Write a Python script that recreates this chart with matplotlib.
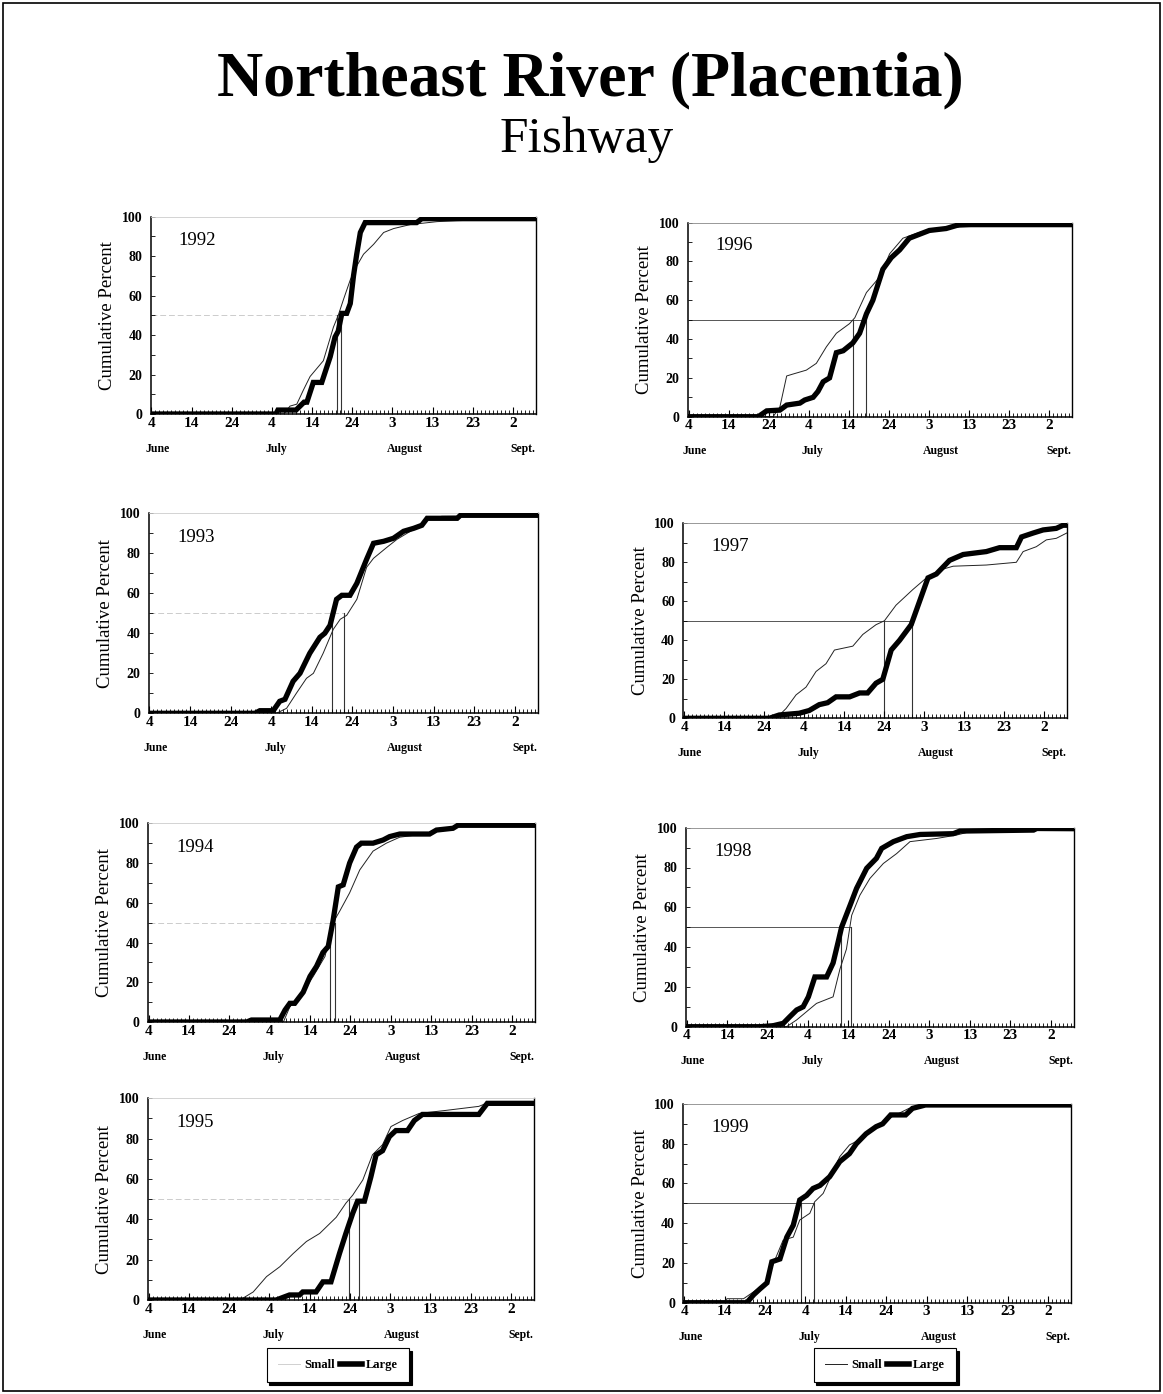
import matplotlib.pyplot as plt
from matplotlib.patches import Rectangle
from matplotlib.lines import Line2D

"""
Cumulative run timing of small and large fish, Northeast River (Placentia) fishway.
Days are counted from June 4.
"""

years = [1992, 1993, 1994, 1995, 1996, 1997, 1998, 1999]

small_1992 = [(0, 0), (33, 0), (34.5, 4), (36.2, 5), (37.8, 12), (39.5, 19), (42.8, 27), (45.3, 44),
              (46.5, 50), (47.8, 58), (49.5, 68), (51.1, 75), (52.8, 81), (55.3, 86), (57.8, 92),
              (60.3, 94), (64.4, 96), (71.1, 97.5), (76.1, 98), (95.8, 99)]
large_1992 = [(0, 0), (31, 0), (31.5, 2), (36, 2), (38, 6), (38.7, 6), (40.3, 16), (42.4, 16), (44.5, 29),
              (45.7, 39), (46.5, 42), (47.4, 51), (48.6, 51), (49.5, 56), (50.3, 70), (51.1, 81), (52, 92),
              (53.2, 97), (66, 97), (67.3, 99), (95.8, 99)]

small_1993 = [(0, 0), (31.3, 0), (33.8, 2.5), (36.2, 10), (38.7, 17.5), (40.4, 20), (42.8, 30), (45.3, 42),
              (47, 47), (48.6, 49), (51.1, 57), (53.5, 73), (55.2, 77.5), (58.5, 83), (61, 87), (65.1, 92),
              (68.4, 97), (72, 98.5), (95.8, 99)]
large_1993 = [(0, 0), (26, 0), (27.2, 1.3), (30.5, 1.3), (32.1, 6), (33.4, 7), (35.4, 16), (37.1, 20),
              (39.5, 30), (42, 38), (43.2, 40), (44.5, 44), (46.1, 57), (47.4, 59), (49.4, 59), (51.1, 65),
              (53.5, 77), (55.2, 85), (57.7, 86), (60.1, 87.5), (62.6, 91), (65.1, 92.5), (67.1, 94),
              (68.4, 97.5), (75.8, 97.5), (76.6, 99), (95.8, 99)]

small_1994 = [(0, 0), (33.4, 0), (35, 7.7), (37.5, 12.8), (40.8, 23), (43.7, 33), (45.7, 50), (47.4, 56),
              (49.8, 65), (52.3, 76.5), (55.6, 86), (58.9, 90), (62.2, 93), (69.6, 95), (73.7, 97.5),
              (77.8, 99), (95.8, 99)]
large_1994 = [(0, 0), (24.3, 0), (25.5, 1), (32.5, 1), (33.8, 6), (35, 9.4), (36.2, 9.4), (38.3, 15),
              (40, 23), (41.6, 28), (43.2, 35), (44.5, 38), (45.7, 51), (47, 68), (48.2, 69), (49.8, 80),
              (51.5, 88), (52.7, 90), (55.6, 90), (58.1, 91.6), (59.7, 93.3), (62.2, 94.6), (69.6, 94.6),
              (71.3, 96.6), (75.4, 97.5), (76.6, 99), (95.8, 99)]

small_1995 = [(0, 0), (22.7, 0), (26, 4), (29.3, 11.6), (32.6, 16.5), (35.9, 23), (39.2, 29), (42.5, 33),
              (46.6, 41), (49, 48), (50.7, 52), (53.2, 59.5), (55.6, 72), (58.1, 77), (60.2, 86),
              (63.1, 89), (67.2, 92.5), (73.8, 94), (82, 96), (84.5, 98), (95.8, 98)]
large_1995 = [(0, 0), (31.7, 0), (33.4, 1.3), (35, 2.5), (37.5, 2.5), (38.3, 4), (41.6, 4), (43.3, 9),
              (45.3, 9), (47.4, 23), (49, 33), (50.7, 43), (51.9, 49), (53.6, 49), (55.2, 61), (56.5, 72),
              (58.1, 74), (59.8, 81), (61.4, 84), (64.3, 84), (66, 89), (68, 92), (82, 92), (84.1, 97.5),
              (95.8, 97.5)]

small_1996 = [(0, 0), (21.1, 0), (22.8, 5), (24.5, 21), (26.1, 22), (29.4, 24), (31.9, 27.5), (34.4, 36),
              (36.9, 43), (40.2, 48), (41.5, 51), (44.4, 64), (47.7, 72), (50.2, 84), (53.5, 92),
              (57.6, 95), (61.8, 97), (70, 98), (82.5, 99), (95.8, 99)]
large_1996 = [(0, 0), (17.4, 0), (19.5, 3), (22.8, 3.4), (24.5, 6), (27.8, 7), (29, 8.6), (31.1, 10),
              (32.3, 13), (33.6, 18), (35.2, 20), (36.9, 33), (38.6, 34), (41, 38), (42.7, 43), (44.4, 53),
              (46, 60), (48.5, 76), (50.6, 82), (52.7, 86), (55.1, 92), (57.6, 94), (60.1, 96), (64.3, 97),
              (67.6, 99), (95.8, 99)]

small_1997 = [(0, 0), (23, 0), (25.5, 5), (28, 12), (30.5, 16), (33, 24), (35.5, 28), (37.6, 35), (42.2, 37),
              (44.7, 43), (48, 48), (50.1, 50), (53, 58), (57.2, 66), (60.6, 72), (63.9, 76), (67.3, 78),
              (75.6, 78.6), (83.1, 80), (84.8, 85.5), (88.1, 88), (90.6, 91.5), (93.1, 92.3), (95.7, 95)]
large_1997 = [(0, 0), (21.3, 0), (23.8, 1.7), (28.8, 2.6), (31.3, 4), (33.8, 7), (35.9, 8), (38, 11),
              (41.4, 11), (43.9, 13), (45.9, 13), (48, 18), (49.7, 20), (51.8, 35), (53.9, 40), (56.8, 48),
              (58.9, 60), (61, 72), (63.1, 74), (66.4, 81), (69.8, 84), (75.6, 85.5), (78.9, 87.5),
              (83.1, 87.5), (84.4, 93), (87.3, 95), (89.8, 96.6), (93.1, 97.4), (94.8, 99), (95.7, 99)]

small_1998 = [(0, 0), (24.7, 0), (27.2, 3.4), (30.5, 9), (32.1, 11.7), (36.2, 15), (37.9, 29), (39.5, 39),
              (40.8, 56), (42.8, 66), (45.3, 74.5), (48.6, 82), (51.9, 87), (55.2, 93), (61.8, 94.6),
              (66.7, 96.3), (70, 98), (85, 98.5), (86.5, 99.3), (95.8, 99.3)]
large_1998 = [(0, 0), (18.1, 0), (21.4, 0.5), (23.9, 1.7), (25.5, 5), (27.2, 8.4), (28.8, 10), (30.1, 15),
              (31.7, 25), (34.6, 25), (36.2, 32), (37.5, 43), (38.3, 50), (40.4, 61), (42, 69.5),
              (44.5, 79.6), (46.9, 84.6), (48.2, 89.6), (51.1, 93), (54.4, 95.5), (57.7, 96.6), (65.9, 97),
              (67.5, 98.3), (85.7, 98.8), (86.5, 99.6), (95.8, 99.5)]

small_1999 = [(0, 0), (9.8, 0), (10.6, 2), (14.7, 2), (17.2, 5.5), (20.5, 10.6), (22.1, 19.8), (24.5, 31.5),
              (27, 33), (28.6, 41.6), (31.1, 45), (32.3, 50.8), (34.4, 55), (38.5, 73.5), (40.9, 79.4),
              (43.4, 82), (46.6, 87), (49.9, 92), (55.6, 97.8), (62.2, 99.5), (95.8, 99.5)]
large_1999 = [(0, 0), (15.5, 0), (17.2, 4), (18.8, 7), (20.5, 10), (21.7, 20.6), (23.7, 22), (25.4, 33),
              (27, 39), (28.6, 51.7), (30.3, 54), (31.9, 57.5), (33.6, 59), (36, 63.4), (38.5, 71),
              (40.9, 75), (42.6, 80), (45, 85), (47.5, 88.6), (49.1, 90), (51.1, 94.5), (54.8, 94.5),
              (56.5, 97.8), (59.7, 99.5), (95.8, 99.5)]

small_runs = [small_1992, small_1993, small_1994, small_1995, small_1996, small_1997, small_1998, small_1999]
large_runs = [large_1992, large_1993, large_1994, large_1995, large_1996, large_1997, large_1998, large_1999]

# day on which each group passed 50%
small_median = [46.1, 48.0, 46.3, 49.7, 41.0, 50.0, 40.6, 32.1]
large_median = [47.1, 45.1, 44.9, 52.3, 44.2, 57.0, 38.1, 28.8]

tick_days = [0, 10, 20, 30, 40, 50, 60, 70, 80, 90]
tick_labels = ['4', '14', '24', '4', '14', '24', '3', '13', '23', '2']
month_names = ['June', 'July', 'August', 'Sept.']
month_days = [1.5, 31, 63, 92.5]

W, H = 1163, 1394
# panel boxes in pixels: left, top, right, bottom
panel_px = [(150.5, 216.7, 536, 414), (148.5, 513.3, 538, 713.3),
            (147.7, 823.3, 535, 1022), (147.7, 1098.3, 534, 1300),
            (687.7, 222.7, 1072, 416.7), (683.3, 523.3, 1066.7, 718.3),
            (685.7, 827.7, 1074, 1026.7), (683.3, 1104, 1071, 1302.7)]

plt.rcParams['font.family'] = ['Liberation Serif', 'DejaVu Serif']

fig = plt.figure(figsize=(W / 100, H / 100), dpi=100)
fig.patches.append(Rectangle((3 / W, 3 / H), (W - 6) / W, (H - 6) / H, transform=fig.transFigure,
                             fill=False, edgecolor='black', linewidth=1.2))

fig.text(590 / W, 1 - 95 / H, 'Northeast River (Placentia)', ha='center', va='baseline',
         fontsize=46, fontweight='bold')
fig.text(587 / W, 1 - 152 / H, 'Fishway', ha='center', va='baseline', fontsize=37)

for i, year in enumerate(years):
    l, t, r, b = panel_px[i]
    ax = fig.add_axes([l / W, 1 - b / H, (r - l) / W, (b - t) / H])
    left_col = i < 4

    sd, sp = zip(*small_runs[i])
    ld, lp = zip(*large_runs[i])

    # median markers
    ax.plot([0, max(small_median[i], large_median[i])], [50, 50], color='#cccccc' if left_col else '#555555',
            linewidth=0.7, linestyle=(0, (6, 3)) if left_col else '-', zorder=1)
    ax.plot([small_median[i], small_median[i]], [0, 50], color='#333333', linewidth=0.8, zorder=1)
    ax.plot([large_median[i], large_median[i]], [0, 50], color='#333333', linewidth=0.8, zorder=1)

    ax.plot(sd, sp, color='#222222', linewidth=0.7, zorder=2)
    ax.plot(ld, lp, color='black', linewidth=3.8, solid_joinstyle='miter', zorder=3)

    ax.set_xlim(-0.2, 95.7)
    ax.set_ylim(0, 100)
    ax.set_xticks(tick_days)
    ax.set_xticklabels(tick_labels, fontsize=11, fontweight='bold')
    ax.set_xticks(range(0, 96), minor=True)
    ax.set_yticks([0, 20, 40, 60, 80, 100])
    ax.set_yticklabels(['0', '20', '40', '60', '80', '100'], fontsize=10, fontweight='bold')
    ax.set_yticks(range(10, 100, 20), minor=True)
    ax.tick_params(axis='x', which='major', direction='in', length=5, width=0.8, pad=2)
    ax.tick_params(axis='x', which='minor', direction='in', length=3, width=0.6)
    ax.tick_params(axis='y', which='both', direction='in', length=3, width=0.6, pad=6)

    for side in ['left', 'bottom']:
        ax.spines[side].set_linewidth(1.1)
    ax.spines['right'].set_linewidth(1.0)
    ax.spines['top'].set_color('#cccccc' if left_col else '#888888')
    ax.spines['top'].set_linewidth(0.6)

    ax.set_ylabel('Cumulative Percent', fontsize=13.5, labelpad=4)

    ax.text(11.5, 88, str(year), ha='center', va='center', fontsize=13.5)

    for name, d in zip(month_names, month_days):
        ax.annotate(name, xy=(d, 0), xycoords=('data', 'axes fraction'), xytext=(0, -25),
                    textcoords='offset points', ha='center', va='center', fontsize=8.5,
                    fontweight='bold')

# the thin "Small" key is barely printed in the left-hand legend
for cx, small_key in [(338, '#d0d0d0'), (885, '#222222')]:
    handles = [Line2D([], [], color=small_key, linewidth=0.7),
               Line2D([], [], color='black', linewidth=4)]
    leg = fig.legend(handles, ['Small', 'Large'], loc='center', bbox_to_anchor=(cx / W, 1 - 1365 / H),
                     ncol=2, frameon=True, fancybox=False, shadow={'color': 'black', 'alpha': 1},
                     handlelength=1.8, handletextpad=0.3, columnspacing=0.4, borderpad=0.9,
                     prop={'weight': 'bold', 'size': 9})
    leg.get_frame().set_edgecolor('black')
    leg.get_frame().set_linewidth(0.8)

fig.savefig('out.png', dpi=100)
